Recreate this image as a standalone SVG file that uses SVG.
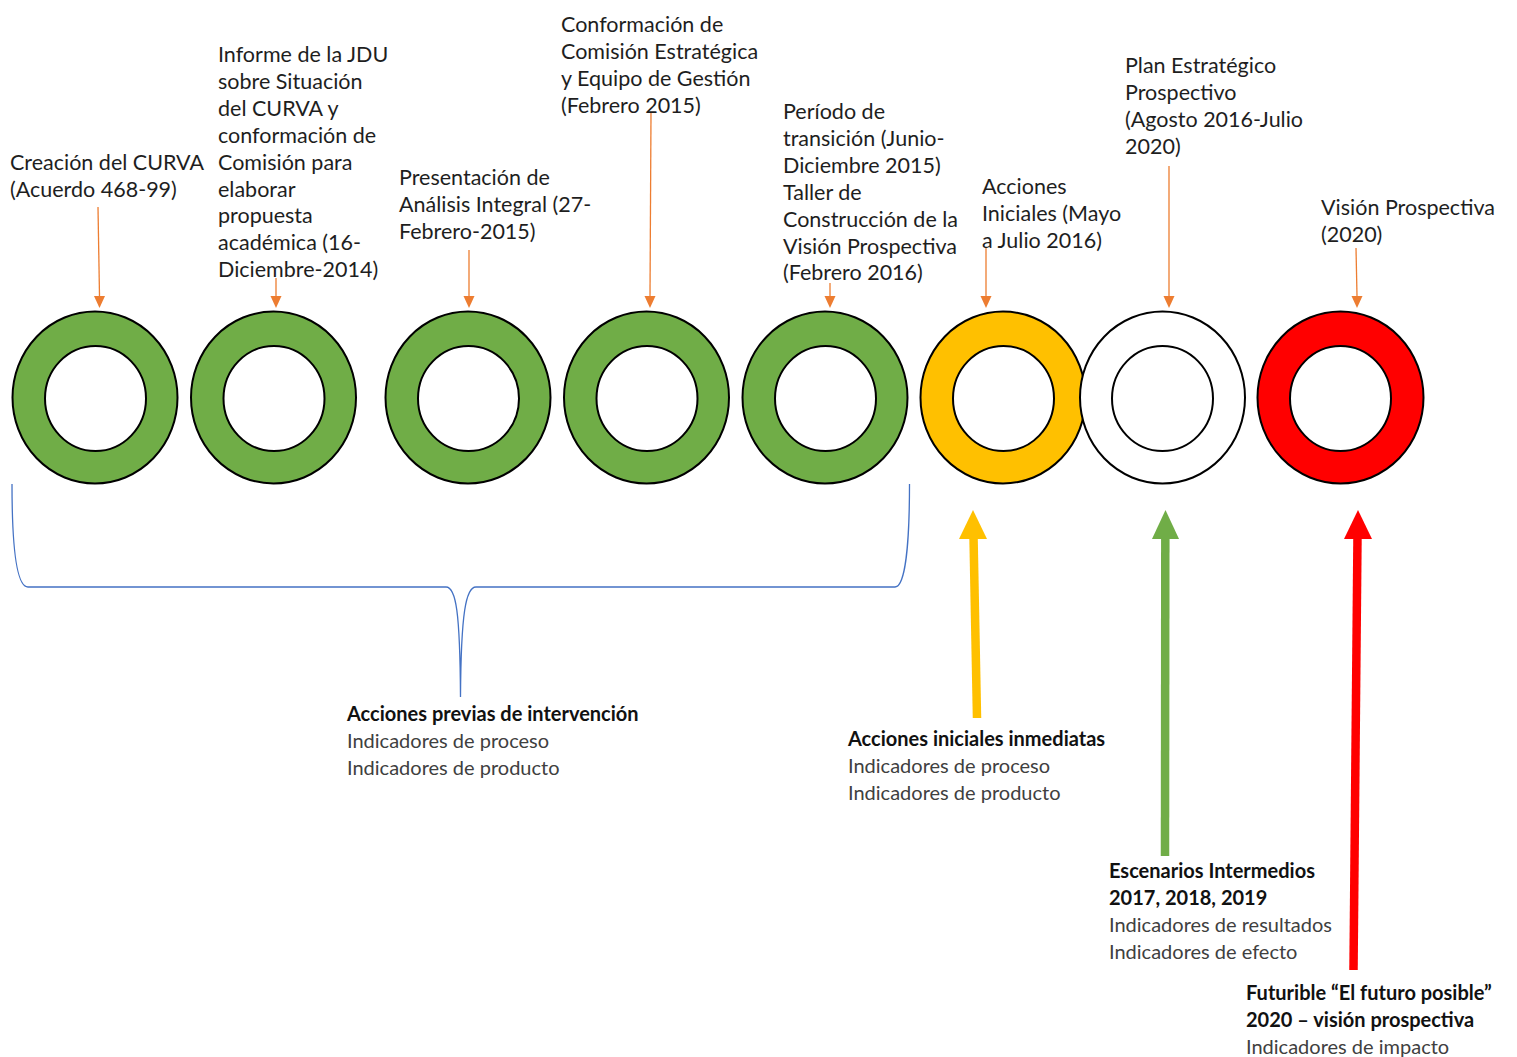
<svg xmlns="http://www.w3.org/2000/svg" width="1517" height="1057" viewBox="0 0 1517 1057">
<style>
.lbl{font-family:Lato,"Noto Sans",sans-serif;font-size:21.5px;fill:#1e1e1e}
.bt{font-family:Lato,"Noto Sans",sans-serif;font-size:20px;fill:#404040}
.bb{font-weight:bold;fill:#111}
.ring{stroke:#000;stroke-width:2}
.hole{fill:#fff;stroke:#000;stroke-width:2}
.oa{stroke:#ED7D31;stroke-width:1.3;fill:none}
.oh{fill:#ED7D31}
</style>
<rect width="1517" height="1057" fill="#fff"/>
<g id="connectors">
<path d="M98,207 L99.5,296" class="oa"/><polygon class="oh" points="94,296 105,296 99.5,308"/>
<path d="M276,278 L276,296" class="oa"/><polygon class="oh" points="270.5,296 281.5,296 276,308"/>
<path d="M469,250 L469,296" class="oa"/><polygon class="oh" points="463.5,296 474.5,296 469,308"/>
<path d="M651,113 L650,296" class="oa"/><polygon class="oh" points="644.5,296 655.5,296 650,308"/>
<path d="M830,283 L830,296" class="oa"/><polygon class="oh" points="824.5,296 835.5,296 830,308"/>
<path d="M986,248 L986,296" class="oa"/><polygon class="oh" points="980.5,296 991.5,296 986,308"/>
<path d="M1169,166 L1169,296" class="oa"/><polygon class="oh" points="1163.5,296 1174.5,296 1169,308"/>
<path d="M1356,248 L1357,296" class="oa"/><polygon class="oh" points="1351.5,296 1362.5,296 1357,308"/>
<path d="M12,484 C12,545 16,587 28,587 L446,587 C456,587 460,612 460.5,697 C461,612 466,587 476,587 L895,587 C905,587 909.5,545 909.5,484" fill="none" stroke="#4472C4" stroke-width="1.3"/>
<path d="M977,718 L973.5,536" stroke="#FFC000" stroke-width="8.5" fill="none"/>
<polygon points="959,539 973,510 987,539" fill="#FFC000"/>
<path d="M1165,856 L1165.3,536" stroke="#70AD47" stroke-width="8.5" fill="none"/>
<polygon points="1152,539 1165.5,510 1179,539" fill="#70AD47"/>
<path d="M1353.5,970 L1357.5,536" stroke="#FF0000" stroke-width="8.5" fill="none"/>
<polygon points="1344,539 1358,510 1372,539" fill="#FF0000"/>
</g>
<g id="n1"><ellipse class="ring" cx="95" cy="397.5" rx="82.5" ry="86" fill="#70AD47"/><ellipse class="hole" cx="95.5" cy="398.5" rx="50.5" ry="52.5"/>
<text class="lbl" x="10" y="170">Creación del CURVA<tspan x="10" dy="26.9">(Acuerdo 468-99)</tspan></text></g>
<g id="n2"><ellipse class="ring" cx="273.5" cy="397.5" rx="82.5" ry="86" fill="#70AD47"/><ellipse class="hole" cx="274" cy="398.5" rx="50.5" ry="52.5"/>
<text class="lbl" x="218" y="62">Informe de la JDU<tspan x="218" dy="26.9">sobre Situación</tspan><tspan x="218" dy="26.9">del CURVA y</tspan><tspan x="218" dy="26.9">conformación de</tspan><tspan x="218" dy="26.9">Comisión para</tspan><tspan x="218" dy="26.9">elaborar</tspan><tspan x="218" dy="26.9">propuesta</tspan><tspan x="218" dy="26.9">académica (16-</tspan><tspan x="218" dy="26.9">Diciembre-2014)</tspan></text></g>
<g id="n3"><ellipse class="ring" cx="468" cy="397.5" rx="82.5" ry="86" fill="#70AD47"/><ellipse class="hole" cx="468.5" cy="398.5" rx="50.5" ry="52.5"/>
<text class="lbl" x="399" y="185">Presentación de<tspan x="399" dy="26.9">Análisis Integral (27-</tspan><tspan x="399" dy="26.9">Febrero-2015)</tspan></text></g>
<g id="n4"><ellipse class="ring" cx="646.5" cy="397.5" rx="82.5" ry="86" fill="#70AD47"/><ellipse class="hole" cx="647" cy="398.5" rx="50.5" ry="52.5"/>
<text class="lbl" x="561" y="32">Conformación de<tspan x="561" dy="26.9">Comisión Estratégica</tspan><tspan x="561" dy="26.9">y Equipo de Gestión</tspan><tspan x="561" dy="26.9">(Febrero 2015)</tspan></text></g>
<g id="n5"><ellipse class="ring" cx="825" cy="397.5" rx="82.5" ry="86" fill="#70AD47"/><ellipse class="hole" cx="825.5" cy="398.5" rx="50.5" ry="52.5"/>
<text class="lbl" x="783" y="119">Período de<tspan x="783" dy="26.9">transición (Junio-</tspan><tspan x="783" dy="26.9">Diciembre 2015)</tspan><tspan x="783" dy="26.9">Taller de</tspan><tspan x="783" dy="26.9">Construcción de la</tspan><tspan x="783" dy="26.9">Visión Prospectiva</tspan><tspan x="783" dy="26.9">(Febrero 2016)</tspan></text></g>
<g id="n6"><ellipse class="ring" cx="1003" cy="397.5" rx="82.5" ry="86" fill="#FFC000"/><ellipse class="hole" cx="1003.5" cy="398.5" rx="50.5" ry="52.5"/>
<text class="lbl" x="982" y="194">Acciones<tspan x="982" dy="26.9">Iniciales (Mayo</tspan><tspan x="982" dy="26.9">a Julio 2016)</tspan></text></g>
<g id="n7"><ellipse class="ring" cx="1162.5" cy="397.5" rx="82.5" ry="86" fill="#fff"/><ellipse class="hole" cx="1162.5" cy="398.5" rx="50.5" ry="52.5"/>
<text class="lbl" x="1125" y="73">Plan Estratégico<tspan x="1125" dy="26.9">Prospectivo</tspan><tspan x="1125" dy="26.9">(Agosto 2016-Julio</tspan><tspan x="1125" dy="26.9">2020)</tspan></text></g>
<g id="n8"><ellipse class="ring" cx="1340.5" cy="397.5" rx="83" ry="86" fill="#FF0000"/><ellipse class="hole" cx="1340.5" cy="398.5" rx="50.5" ry="52.5"/>
<text class="lbl" x="1321" y="215">Visión Prospectiva<tspan x="1321" dy="26.9">(2020)</tspan></text></g>
<g id="t1"><text class="bt" x="347" y="721"><tspan class="bb">Acciones previas de intervención</tspan><tspan x="347" dy="27">Indicadores de proceso</tspan><tspan x="347" dy="27">Indicadores de producto</tspan></text></g>
<g id="t2"><text class="bt" x="848" y="746"><tspan class="bb">Acciones iniciales inmediatas</tspan><tspan x="848" dy="27">Indicadores de proceso</tspan><tspan x="848" dy="27">Indicadores de producto</tspan></text></g>
<g id="t3"><text class="bt" x="1109" y="878"><tspan class="bb">Escenarios Intermedios</tspan><tspan class="bb" x="1109" dy="27">2017, 2018, 2019</tspan><tspan x="1109" dy="26.5">Indicadores de resultados</tspan><tspan x="1109" dy="27">Indicadores de efecto</tspan></text></g>
<g id="t4"><text class="bt" x="1246" y="1000"><tspan class="bb">Futurible “El futuro posible”</tspan><tspan class="bb" x="1246" dy="27">2020 – visión prospectiva</tspan><tspan x="1246" dy="26.5">Indicadores de impacto</tspan></text></g>
</svg>
